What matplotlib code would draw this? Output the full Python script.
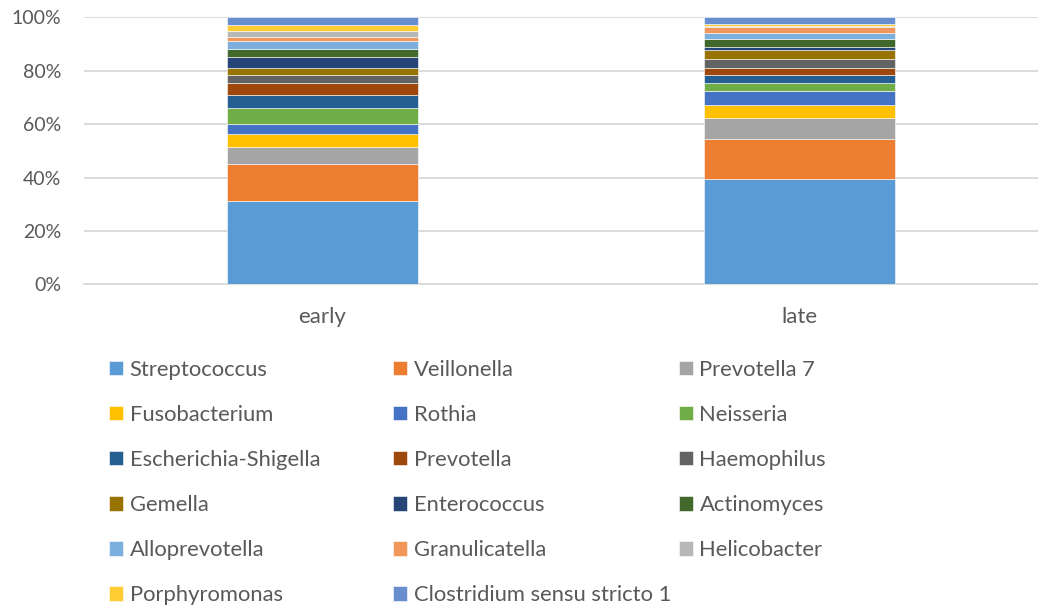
#!/usr/bin/env python3
"""Stacked 100% bar chart of genus relative abundance, early vs late."""

import matplotlib.pyplot as plt
import numpy as np

plt.rcParams["font.family"] = ["Lato", "DejaVu Sans"]

samples = ["early", "late"]
genera = [
    "Streptococcus", "Veillonella", "Prevotella 7", "Fusobacterium", "Rothia",
    "Neisseria", "Escherichia-Shigella", "Prevotella", "Haemophilus", "Gemella",
    "Enterococcus", "Actinomyces", "Alloprevotella", "Granulicatella",
    "Helicobacter", "Porphyromonas", "Clostridium sensu stricto 1",
]
# percent abundance per genus, order as genera
early = [31.3, 13.9, 6.4, 4.5, 3.75, 6.0, 5.2, 4.2, 3.2, 2.5,
         4.2, 2.9, 3.0, 1.6, 2.25, 2.1, 2.9]
late = [39.4, 14.9, 8.2, 4.6, 5.4, 2.75, 3.2, 2.75, 3.2, 3.5,
        1.0, 2.9, 2.4, 2.1, 0.4, 0.8, 2.5]
colors = [
    "#5B9BD5", "#ED7D31", "#A5A5A5", "#FFC000", "#4472C4", "#70AD47",
    "#255E91", "#9E480E", "#636363", "#997300", "#264478", "#43682B",
    "#7CAFDD", "#F1975A", "#B7B7B7", "#FFCD33", "#698ED0",
]

text_col = "#595959"
grid_col = "#D9D9D9"

fig = plt.figure(figsize=(10.38, 6.09), dpi=100)
ax = fig.add_axes([0.0805, 0.533, 0.9195, 0.4384])

vals = np.array([early, late], dtype=float)
vals = vals / vals.sum(axis=1, keepdims=True) * 100
x = np.arange(len(samples))
bottom = np.zeros(len(samples))
handles = []
for i, name in enumerate(genera):
    h = ax.bar(x, vals[:, i], 0.4, bottom=bottom, color=colors[i],
               edgecolor="white", linewidth=0.4, label=name, zorder=3)
    handles.append(h)
    bottom += vals[:, i]

ax.set_xlim(-0.5, 1.5)
ax.set_ylim(0, 100)
ax.set_yticks(np.arange(0, 101, 20))
ax.set_yticklabels([f"{v}%" for v in range(0, 101, 20)])
ax.set_xticks(x)
ax.set_xticklabels(samples)
ax.grid(axis="y", color=grid_col, linewidth=1.3, zorder=0)
for s in ["top", "right", "left"]:
    ax.spines[s].set_visible(False)
ax.spines["bottom"].set_color(grid_col)
ax.spines["bottom"].set_linewidth(1.3)
ax.tick_params(axis="both", length=0, colors=text_col)
ax.tick_params(axis="y", pad=16, labelsize=14)
ax.tick_params(axis="x", pad=16.5, labelsize=16)

# legend: three columns laid out row-wise like the original
col_x = [0.105, 0.379, 0.654]
for c in range(3):
    idx = list(range(c, len(genera), 3))
    leg = fig.legend([handles[i] for i in idx], [genera[i] for i in idx],
                     loc="upper left", bbox_to_anchor=(col_x[c], 0.409),
                     frameon=False, fontsize=15.8, handlelength=0.64,
                     handleheight=0.64, handletextpad=0.3, labelspacing=1.14,
                     borderaxespad=0, borderpad=0)
    for t in leg.get_texts():
        t.set_color(text_col)

fig.savefig("out.png", dpi=100)
